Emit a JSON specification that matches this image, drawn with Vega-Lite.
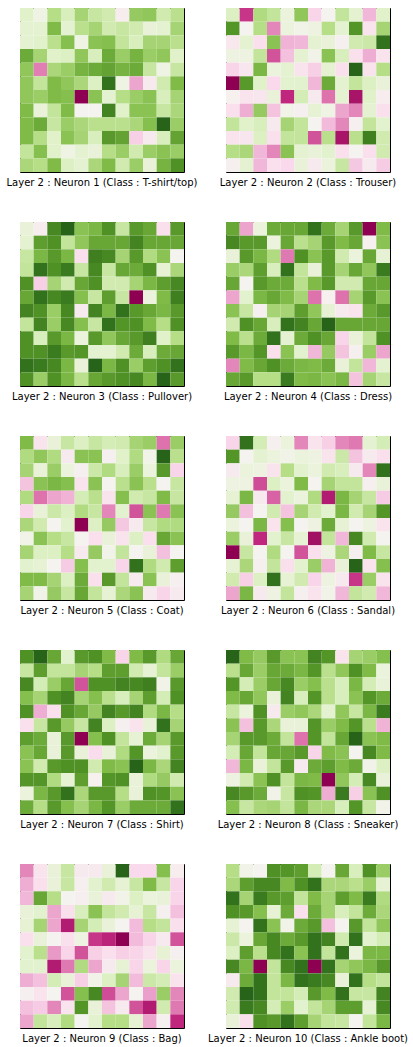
{
  "$schema": "https://vega.github.io/schema/vega-lite/v6.json",
  "description": "Layer 2 neuron weights, 12x12 grid per neuron, PiYG colours.",
  "padding": {"left": 6, "top": 7, "right": 0, "bottom": 0},
  "bounds": "flush",
  "data": {"values": [
{"n":1,"r":0,"c":0,"v":60},{"n":1,"r":0,"c":1,"v":53},{"n":1,"r":0,"c":2,"v":70},{"n":1,"r":0,"c":3,"v":62},{"n":1,"r":0,"c":4,"v":73},{"n":1,"r":0,"c":5,"v":66},{"n":1,"r":0,"c":6,"v":64},{"n":1,"r":0,"c":7,"v":47},{"n":1,"r":0,"c":8,"v":76},{"n":1,"r":0,"c":9,"v":77},{"n":1,"r":0,"c":10,"v":64},{"n":1,"r":0,"c":11,"v":69},
{"n":1,"r":1,"c":0,"v":58},{"n":1,"r":1,"c":1,"v":58},{"n":1,"r":1,"c":2,"v":80},{"n":1,"r":1,"c":3,"v":58},{"n":1,"r":1,"c":4,"v":69},{"n":1,"r":1,"c":5,"v":73},{"n":1,"r":1,"c":6,"v":64},{"n":1,"r":1,"c":7,"v":66},{"n":1,"r":1,"c":8,"v":64},{"n":1,"r":1,"c":9,"v":56},{"n":1,"r":1,"c":10,"v":58},{"n":1,"r":1,"c":11,"v":73},
{"n":1,"r":2,"c":0,"v":58},{"n":1,"r":2,"c":1,"v":60},{"n":1,"r":2,"c":2,"v":69},{"n":1,"r":2,"c":3,"v":79},{"n":1,"r":2,"c":4,"v":53},{"n":1,"r":2,"c":5,"v":78},{"n":1,"r":2,"c":6,"v":79},{"n":1,"r":2,"c":7,"v":67},{"n":1,"r":2,"c":8,"v":62},{"n":1,"r":2,"c":9,"v":73},{"n":1,"r":2,"c":10,"v":73},{"n":1,"r":2,"c":11,"v":69},
{"n":1,"r":3,"c":0,"v":84},{"n":1,"r":3,"c":1,"v":73},{"n":1,"r":3,"c":2,"v":60},{"n":1,"r":3,"c":3,"v":61},{"n":1,"r":3,"c":4,"v":77},{"n":1,"r":3,"c":5,"v":62},{"n":1,"r":3,"c":6,"v":84},{"n":1,"r":3,"c":7,"v":75},{"n":1,"r":3,"c":8,"v":82},{"n":1,"r":3,"c":9,"v":75},{"n":1,"r":3,"c":10,"v":77},{"n":1,"r":3,"c":11,"v":60},
{"n":1,"r":4,"c":0,"v":77},{"n":1,"r":4,"c":1,"v":22},{"n":1,"r":4,"c":2,"v":72},{"n":1,"r":4,"c":3,"v":75},{"n":1,"r":4,"c":4,"v":82},{"n":1,"r":4,"c":5,"v":84},{"n":1,"r":4,"c":6,"v":86},{"n":1,"r":4,"c":7,"v":82},{"n":1,"r":4,"c":8,"v":84},{"n":1,"r":4,"c":9,"v":66},{"n":1,"r":4,"c":10,"v":53},{"n":1,"r":4,"c":11,"v":66},
{"n":1,"r":5,"c":0,"v":77},{"n":1,"r":5,"c":1,"v":67},{"n":1,"r":5,"c":2,"v":80},{"n":1,"r":5,"c":3,"v":77},{"n":1,"r":5,"c":4,"v":72},{"n":1,"r":5,"c":5,"v":61},{"n":1,"r":5,"c":6,"v":97},{"n":1,"r":5,"c":7,"v":53},{"n":1,"r":5,"c":8,"v":28},{"n":1,"r":5,"c":9,"v":46},{"n":1,"r":5,"c":10,"v":64},{"n":1,"r":5,"c":11,"v":80},
{"n":1,"r":6,"c":0,"v":77},{"n":1,"r":6,"c":1,"v":75},{"n":1,"r":6,"c":2,"v":80},{"n":1,"r":6,"c":3,"v":79},{"n":1,"r":6,"c":4,"v":0},{"n":1,"r":6,"c":5,"v":78},{"n":1,"r":6,"c":6,"v":58},{"n":1,"r":6,"c":7,"v":70},{"n":1,"r":6,"c":8,"v":75},{"n":1,"r":6,"c":9,"v":78},{"n":1,"r":6,"c":10,"v":62},{"n":1,"r":6,"c":11,"v":73},
{"n":1,"r":7,"c":0,"v":80},{"n":1,"r":7,"c":1,"v":56},{"n":1,"r":7,"c":2,"v":67},{"n":1,"r":7,"c":3,"v":80},{"n":1,"r":7,"c":4,"v":50},{"n":1,"r":7,"c":5,"v":50},{"n":1,"r":7,"c":6,"v":93},{"n":1,"r":7,"c":7,"v":60},{"n":1,"r":7,"c":8,"v":78},{"n":1,"r":7,"c":9,"v":78},{"n":1,"r":7,"c":10,"v":66},{"n":1,"r":7,"c":11,"v":72},
{"n":1,"r":8,"c":0,"v":80},{"n":1,"r":8,"c":1,"v":84},{"n":1,"r":8,"c":2,"v":66},{"n":1,"r":8,"c":3,"v":75},{"n":1,"r":8,"c":4,"v":72},{"n":1,"r":8,"c":5,"v":69},{"n":1,"r":8,"c":6,"v":69},{"n":1,"r":8,"c":7,"v":69},{"n":1,"r":8,"c":8,"v":72},{"n":1,"r":8,"c":9,"v":79},{"n":1,"r":8,"c":10,"v":100},{"n":1,"r":8,"c":11,"v":75},
{"n":1,"r":9,"c":0,"v":80},{"n":1,"r":9,"c":1,"v":70},{"n":1,"r":9,"c":2,"v":60},{"n":1,"r":9,"c":3,"v":78},{"n":1,"r":9,"c":4,"v":73},{"n":1,"r":9,"c":5,"v":62},{"n":1,"r":9,"c":6,"v":88},{"n":1,"r":9,"c":7,"v":86},{"n":1,"r":9,"c":8,"v":37},{"n":1,"r":9,"c":9,"v":46},{"n":1,"r":9,"c":10,"v":62},{"n":1,"r":9,"c":11,"v":86},
{"n":1,"r":10,"c":0,"v":67},{"n":1,"r":10,"c":1,"v":79},{"n":1,"r":10,"c":2,"v":60},{"n":1,"r":10,"c":3,"v":53},{"n":1,"r":10,"c":4,"v":58},{"n":1,"r":10,"c":5,"v":56},{"n":1,"r":10,"c":6,"v":70},{"n":1,"r":10,"c":7,"v":75},{"n":1,"r":10,"c":8,"v":64},{"n":1,"r":10,"c":9,"v":75},{"n":1,"r":10,"c":10,"v":78},{"n":1,"r":10,"c":11,"v":75},
{"n":1,"r":11,"c":0,"v":72},{"n":1,"r":11,"c":1,"v":70},{"n":1,"r":11,"c":2,"v":80},{"n":1,"r":11,"c":3,"v":61},{"n":1,"r":11,"c":4,"v":58},{"n":1,"r":11,"c":5,"v":72},{"n":1,"r":11,"c":6,"v":80},{"n":1,"r":11,"c":7,"v":64},{"n":1,"r":11,"c":8,"v":75},{"n":1,"r":11,"c":9,"v":56},{"n":1,"r":11,"c":10,"v":82},{"n":1,"r":11,"c":11,"v":90},
{"n":2,"r":0,"c":0,"v":61},{"n":2,"r":0,"c":1,"v":12},{"n":2,"r":0,"c":2,"v":71},{"n":2,"r":0,"c":3,"v":67},{"n":2,"r":0,"c":4,"v":55},{"n":2,"r":0,"c":5,"v":77},{"n":2,"r":0,"c":6,"v":38},{"n":2,"r":0,"c":7,"v":50},{"n":2,"r":0,"c":8,"v":67},{"n":2,"r":0,"c":9,"v":58},{"n":2,"r":0,"c":10,"v":31},{"n":2,"r":0,"c":11,"v":60},
{"n":2,"r":1,"c":0,"v":89},{"n":2,"r":1,"c":1,"v":50},{"n":2,"r":1,"c":2,"v":70},{"n":2,"r":1,"c":3,"v":23},{"n":2,"r":1,"c":4,"v":55},{"n":2,"r":1,"c":5,"v":52},{"n":2,"r":1,"c":6,"v":54},{"n":2,"r":1,"c":7,"v":70},{"n":2,"r":1,"c":8,"v":58},{"n":2,"r":1,"c":9,"v":89},{"n":2,"r":1,"c":10,"v":43},{"n":2,"r":1,"c":11,"v":73},
{"n":2,"r":2,"c":0,"v":45},{"n":2,"r":2,"c":1,"v":58},{"n":2,"r":2,"c":2,"v":41},{"n":2,"r":2,"c":3,"v":78},{"n":2,"r":2,"c":4,"v":30},{"n":2,"r":2,"c":5,"v":31},{"n":2,"r":2,"c":6,"v":58},{"n":2,"r":2,"c":7,"v":56},{"n":2,"r":2,"c":8,"v":48},{"n":2,"r":2,"c":9,"v":64},{"n":2,"r":2,"c":10,"v":65},{"n":2,"r":2,"c":11,"v":97},
{"n":2,"r":3,"c":0,"v":54},{"n":2,"r":3,"c":1,"v":54},{"n":2,"r":3,"c":2,"v":67},{"n":2,"r":3,"c":3,"v":16},{"n":2,"r":3,"c":4,"v":33},{"n":2,"r":3,"c":5,"v":58},{"n":2,"r":3,"c":6,"v":52},{"n":2,"r":3,"c":7,"v":78},{"n":2,"r":3,"c":8,"v":62},{"n":2,"r":3,"c":9,"v":41},{"n":2,"r":3,"c":10,"v":29},{"n":2,"r":3,"c":11,"v":43},
{"n":2,"r":4,"c":0,"v":38},{"n":2,"r":4,"c":1,"v":44},{"n":2,"r":4,"c":2,"v":81},{"n":2,"r":4,"c":3,"v":55},{"n":2,"r":4,"c":4,"v":58},{"n":2,"r":4,"c":5,"v":43},{"n":2,"r":4,"c":6,"v":37},{"n":2,"r":4,"c":7,"v":58},{"n":2,"r":4,"c":8,"v":41},{"n":2,"r":4,"c":9,"v":100},{"n":2,"r":4,"c":10,"v":43},{"n":2,"r":4,"c":11,"v":70},
{"n":2,"r":5,"c":0,"v":0},{"n":2,"r":5,"c":1,"v":88},{"n":2,"r":5,"c":2,"v":60},{"n":2,"r":5,"c":3,"v":39},{"n":2,"r":5,"c":4,"v":59},{"n":2,"r":5,"c":5,"v":59},{"n":2,"r":5,"c":6,"v":31},{"n":2,"r":5,"c":7,"v":84},{"n":2,"r":5,"c":8,"v":58},{"n":2,"r":5,"c":9,"v":67},{"n":2,"r":5,"c":10,"v":61},{"n":2,"r":5,"c":11,"v":56},
{"n":2,"r":6,"c":0,"v":49},{"n":2,"r":6,"c":1,"v":43},{"n":2,"r":6,"c":2,"v":44},{"n":2,"r":6,"c":3,"v":56},{"n":2,"r":6,"c":4,"v":10},{"n":2,"r":6,"c":5,"v":63},{"n":2,"r":6,"c":6,"v":46},{"n":2,"r":6,"c":7,"v":20},{"n":2,"r":6,"c":8,"v":58},{"n":2,"r":6,"c":9,"v":5},{"n":2,"r":6,"c":10,"v":60},{"n":2,"r":6,"c":11,"v":47},
{"n":2,"r":7,"c":0,"v":41},{"n":2,"r":7,"c":1,"v":29},{"n":2,"r":7,"c":2,"v":76},{"n":2,"r":7,"c":3,"v":34},{"n":2,"r":7,"c":4,"v":52},{"n":2,"r":7,"c":5,"v":48},{"n":2,"r":7,"c":6,"v":57},{"n":2,"r":7,"c":7,"v":53},{"n":2,"r":7,"c":8,"v":28},{"n":2,"r":7,"c":9,"v":23},{"n":2,"r":7,"c":10,"v":58},{"n":2,"r":7,"c":11,"v":41},
{"n":2,"r":8,"c":0,"v":67},{"n":2,"r":8,"c":1,"v":60},{"n":2,"r":8,"c":2,"v":62},{"n":2,"r":8,"c":3,"v":46},{"n":2,"r":8,"c":4,"v":73},{"n":2,"r":8,"c":5,"v":67},{"n":2,"r":8,"c":6,"v":50},{"n":2,"r":8,"c":7,"v":32},{"n":2,"r":8,"c":8,"v":23},{"n":2,"r":8,"c":9,"v":48},{"n":2,"r":8,"c":10,"v":67},{"n":2,"r":8,"c":11,"v":59},
{"n":2,"r":9,"c":0,"v":43},{"n":2,"r":9,"c":1,"v":44},{"n":2,"r":9,"c":2,"v":61},{"n":2,"r":9,"c":3,"v":41},{"n":2,"r":9,"c":4,"v":67},{"n":2,"r":9,"c":5,"v":67},{"n":2,"r":9,"c":6,"v":16},{"n":2,"r":9,"c":7,"v":69},{"n":2,"r":9,"c":8,"v":5},{"n":2,"r":9,"c":9,"v":69},{"n":2,"r":9,"c":10,"v":94},{"n":2,"r":9,"c":11,"v":64},
{"n":2,"r":10,"c":0,"v":70},{"n":2,"r":10,"c":1,"v":72},{"n":2,"r":10,"c":2,"v":31},{"n":2,"r":10,"c":3,"v":23},{"n":2,"r":10,"c":4,"v":78},{"n":2,"r":10,"c":5,"v":58},{"n":2,"r":10,"c":6,"v":56},{"n":2,"r":10,"c":7,"v":59},{"n":2,"r":10,"c":8,"v":41},{"n":2,"r":10,"c":9,"v":50},{"n":2,"r":10,"c":10,"v":41},{"n":2,"r":10,"c":11,"v":64},
{"n":2,"r":11,"c":0,"v":48},{"n":2,"r":11,"c":1,"v":58},{"n":2,"r":11,"c":2,"v":31},{"n":2,"r":11,"c":3,"v":41},{"n":2,"r":11,"c":4,"v":39},{"n":2,"r":11,"c":5,"v":56},{"n":2,"r":11,"c":6,"v":46},{"n":2,"r":11,"c":7,"v":55},{"n":2,"r":11,"c":8,"v":66},{"n":2,"r":11,"c":9,"v":35},{"n":2,"r":11,"c":10,"v":46},{"n":2,"r":11,"c":11,"v":36},
{"n":3,"r":0,"c":0,"v":56},{"n":3,"r":0,"c":1,"v":47},{"n":3,"r":0,"c":2,"v":92},{"n":3,"r":0,"c":3,"v":100},{"n":3,"r":0,"c":4,"v":78},{"n":3,"r":0,"c":5,"v":81},{"n":3,"r":0,"c":6,"v":90},{"n":3,"r":0,"c":7,"v":66},{"n":3,"r":0,"c":8,"v":88},{"n":3,"r":0,"c":9,"v":85},{"n":3,"r":0,"c":10,"v":41},{"n":3,"r":0,"c":11,"v":88},
{"n":3,"r":1,"c":0,"v":58},{"n":3,"r":1,"c":1,"v":87},{"n":3,"r":1,"c":2,"v":90},{"n":3,"r":1,"c":3,"v":67},{"n":3,"r":1,"c":4,"v":77},{"n":3,"r":1,"c":5,"v":85},{"n":3,"r":1,"c":6,"v":85},{"n":3,"r":1,"c":7,"v":85},{"n":3,"r":1,"c":8,"v":93},{"n":3,"r":1,"c":9,"v":85},{"n":3,"r":1,"c":10,"v":85},{"n":3,"r":1,"c":11,"v":85},
{"n":3,"r":2,"c":0,"v":66},{"n":3,"r":2,"c":1,"v":81},{"n":3,"r":2,"c":2,"v":88},{"n":3,"r":2,"c":3,"v":81},{"n":3,"r":2,"c":4,"v":41},{"n":3,"r":2,"c":5,"v":94},{"n":3,"r":2,"c":6,"v":92},{"n":3,"r":2,"c":7,"v":73},{"n":3,"r":2,"c":8,"v":88},{"n":3,"r":2,"c":9,"v":71},{"n":3,"r":2,"c":10,"v":78},{"n":3,"r":2,"c":11,"v":50},
{"n":3,"r":3,"c":0,"v":67},{"n":3,"r":3,"c":1,"v":97},{"n":3,"r":3,"c":2,"v":90},{"n":3,"r":3,"c":3,"v":95},{"n":3,"r":3,"c":4,"v":66},{"n":3,"r":3,"c":5,"v":92},{"n":3,"r":3,"c":6,"v":66},{"n":3,"r":3,"c":7,"v":85},{"n":3,"r":3,"c":8,"v":84},{"n":3,"r":3,"c":9,"v":90},{"n":3,"r":3,"c":10,"v":57},{"n":3,"r":3,"c":11,"v":72},
{"n":3,"r":4,"c":0,"v":90},{"n":3,"r":4,"c":1,"v":37},{"n":3,"r":4,"c":2,"v":73},{"n":3,"r":4,"c":3,"v":64},{"n":3,"r":4,"c":4,"v":85},{"n":3,"r":4,"c":5,"v":90},{"n":3,"r":4,"c":6,"v":64},{"n":3,"r":4,"c":7,"v":64},{"n":3,"r":4,"c":8,"v":73},{"n":3,"r":4,"c":9,"v":81},{"n":3,"r":4,"c":10,"v":87},{"n":3,"r":4,"c":11,"v":92},
{"n":3,"r":5,"c":0,"v":85},{"n":3,"r":5,"c":1,"v":97},{"n":3,"r":5,"c":2,"v":92},{"n":3,"r":5,"c":3,"v":95},{"n":3,"r":5,"c":4,"v":79},{"n":3,"r":5,"c":5,"v":66},{"n":3,"r":5,"c":6,"v":87},{"n":3,"r":5,"c":7,"v":66},{"n":3,"r":5,"c":8,"v":0},{"n":3,"r":5,"c":9,"v":55},{"n":3,"r":5,"c":10,"v":80},{"n":3,"r":5,"c":11,"v":94},
{"n":3,"r":6,"c":0,"v":93},{"n":3,"r":6,"c":1,"v":90},{"n":3,"r":6,"c":2,"v":75},{"n":3,"r":6,"c":3,"v":92},{"n":3,"r":6,"c":4,"v":46},{"n":3,"r":6,"c":5,"v":93},{"n":3,"r":6,"c":6,"v":81},{"n":3,"r":6,"c":7,"v":97},{"n":3,"r":6,"c":8,"v":88},{"n":3,"r":6,"c":9,"v":85},{"n":3,"r":6,"c":10,"v":81},{"n":3,"r":6,"c":11,"v":88},
{"n":3,"r":7,"c":0,"v":67},{"n":3,"r":7,"c":1,"v":93},{"n":3,"r":7,"c":2,"v":75},{"n":3,"r":7,"c":3,"v":92},{"n":3,"r":7,"c":4,"v":79},{"n":3,"r":7,"c":5,"v":66},{"n":3,"r":7,"c":6,"v":97},{"n":3,"r":7,"c":7,"v":89},{"n":3,"r":7,"c":8,"v":90},{"n":3,"r":7,"c":9,"v":80},{"n":3,"r":7,"c":10,"v":70},{"n":3,"r":7,"c":11,"v":90},
{"n":3,"r":8,"c":0,"v":90},{"n":3,"r":8,"c":1,"v":62},{"n":3,"r":8,"c":2,"v":88},{"n":3,"r":8,"c":3,"v":81},{"n":3,"r":8,"c":4,"v":55},{"n":3,"r":8,"c":5,"v":88},{"n":3,"r":8,"c":6,"v":77},{"n":3,"r":8,"c":7,"v":85},{"n":3,"r":8,"c":8,"v":88},{"n":3,"r":8,"c":9,"v":94},{"n":3,"r":8,"c":10,"v":60},{"n":3,"r":8,"c":11,"v":70},
{"n":3,"r":9,"c":0,"v":90},{"n":3,"r":9,"c":1,"v":90},{"n":3,"r":9,"c":2,"v":95},{"n":3,"r":9,"c":3,"v":88},{"n":3,"r":9,"c":4,"v":89},{"n":3,"r":9,"c":5,"v":58},{"n":3,"r":9,"c":6,"v":58},{"n":3,"r":9,"c":7,"v":64},{"n":3,"r":9,"c":8,"v":84},{"n":3,"r":9,"c":9,"v":62},{"n":3,"r":9,"c":10,"v":84},{"n":3,"r":9,"c":11,"v":85},
{"n":3,"r":10,"c":0,"v":97},{"n":3,"r":10,"c":1,"v":95},{"n":3,"r":10,"c":2,"v":92},{"n":3,"r":10,"c":3,"v":81},{"n":3,"r":10,"c":4,"v":56},{"n":3,"r":10,"c":5,"v":100},{"n":3,"r":10,"c":6,"v":81},{"n":3,"r":10,"c":7,"v":90},{"n":3,"r":10,"c":8,"v":75},{"n":3,"r":10,"c":9,"v":87},{"n":3,"r":10,"c":10,"v":90},{"n":3,"r":10,"c":11,"v":97},
{"n":3,"r":11,"c":0,"v":90},{"n":3,"r":11,"c":1,"v":75},{"n":3,"r":11,"c":2,"v":90},{"n":3,"r":11,"c":3,"v":81},{"n":3,"r":11,"c":4,"v":69},{"n":3,"r":11,"c":5,"v":85},{"n":3,"r":11,"c":6,"v":88},{"n":3,"r":11,"c":7,"v":90},{"n":3,"r":11,"c":8,"v":92},{"n":3,"r":11,"c":9,"v":81},{"n":3,"r":11,"c":10,"v":100},{"n":3,"r":11,"c":11,"v":88},
{"n":4,"r":0,"c":0,"v":85},{"n":4,"r":0,"c":1,"v":28},{"n":4,"r":0,"c":2,"v":55},{"n":4,"r":0,"c":3,"v":84},{"n":4,"r":0,"c":4,"v":85},{"n":4,"r":0,"c":5,"v":85},{"n":4,"r":0,"c":6,"v":97},{"n":4,"r":0,"c":7,"v":84},{"n":4,"r":0,"c":8,"v":73},{"n":4,"r":0,"c":9,"v":88},{"n":4,"r":0,"c":10,"v":0},{"n":4,"r":0,"c":11,"v":80},
{"n":4,"r":1,"c":0,"v":92},{"n":4,"r":1,"c":1,"v":88},{"n":4,"r":1,"c":2,"v":88},{"n":4,"r":1,"c":3,"v":55},{"n":4,"r":1,"c":4,"v":85},{"n":4,"r":1,"c":5,"v":69},{"n":4,"r":1,"c":6,"v":73},{"n":4,"r":1,"c":7,"v":88},{"n":4,"r":1,"c":8,"v":80},{"n":4,"r":1,"c":9,"v":85},{"n":4,"r":1,"c":10,"v":49},{"n":4,"r":1,"c":11,"v":78},
{"n":4,"r":2,"c":0,"v":56},{"n":4,"r":2,"c":1,"v":88},{"n":4,"r":2,"c":2,"v":81},{"n":4,"r":2,"c":3,"v":71},{"n":4,"r":2,"c":4,"v":21},{"n":4,"r":2,"c":5,"v":90},{"n":4,"r":2,"c":6,"v":78},{"n":4,"r":2,"c":7,"v":88},{"n":4,"r":2,"c":8,"v":64},{"n":4,"r":2,"c":9,"v":55},{"n":4,"r":2,"c":10,"v":85},{"n":4,"r":2,"c":11,"v":57},
{"n":4,"r":3,"c":0,"v":75},{"n":4,"r":3,"c":1,"v":72},{"n":4,"r":3,"c":2,"v":87},{"n":4,"r":3,"c":3,"v":62},{"n":4,"r":3,"c":4,"v":97},{"n":4,"r":3,"c":5,"v":67},{"n":4,"r":3,"c":6,"v":56},{"n":4,"r":3,"c":7,"v":88},{"n":4,"r":3,"c":8,"v":73},{"n":4,"r":3,"c":9,"v":85},{"n":4,"r":3,"c":10,"v":77},{"n":4,"r":3,"c":11,"v":95},
{"n":4,"r":4,"c":0,"v":85},{"n":4,"r":4,"c":1,"v":50},{"n":4,"r":4,"c":2,"v":88},{"n":4,"r":4,"c":3,"v":84},{"n":4,"r":4,"c":4,"v":84},{"n":4,"r":4,"c":5,"v":69},{"n":4,"r":4,"c":6,"v":80},{"n":4,"r":4,"c":7,"v":88},{"n":4,"r":4,"c":8,"v":64},{"n":4,"r":4,"c":9,"v":64},{"n":4,"r":4,"c":10,"v":85},{"n":4,"r":4,"c":11,"v":85},
{"n":4,"r":5,"c":0,"v":28},{"n":4,"r":5,"c":1,"v":59},{"n":4,"r":5,"c":2,"v":81},{"n":4,"r":5,"c":3,"v":85},{"n":4,"r":5,"c":4,"v":80},{"n":4,"r":5,"c":5,"v":73},{"n":4,"r":5,"c":6,"v":20},{"n":4,"r":5,"c":7,"v":49},{"n":4,"r":5,"c":8,"v":20},{"n":4,"r":5,"c":9,"v":73},{"n":4,"r":5,"c":10,"v":88},{"n":4,"r":5,"c":11,"v":78},
{"n":4,"r":6,"c":0,"v":78},{"n":4,"r":6,"c":1,"v":66},{"n":4,"r":6,"c":2,"v":48},{"n":4,"r":6,"c":3,"v":73},{"n":4,"r":6,"c":4,"v":73},{"n":4,"r":6,"c":5,"v":87},{"n":4,"r":6,"c":6,"v":77},{"n":4,"r":6,"c":7,"v":57},{"n":4,"r":6,"c":8,"v":46},{"n":4,"r":6,"c":9,"v":43},{"n":4,"r":6,"c":10,"v":84},{"n":4,"r":6,"c":11,"v":88},
{"n":4,"r":7,"c":0,"v":64},{"n":4,"r":7,"c":1,"v":90},{"n":4,"r":7,"c":2,"v":85},{"n":4,"r":7,"c":3,"v":62},{"n":4,"r":7,"c":4,"v":97},{"n":4,"r":7,"c":5,"v":93},{"n":4,"r":7,"c":6,"v":85},{"n":4,"r":7,"c":7,"v":100},{"n":4,"r":7,"c":8,"v":85},{"n":4,"r":7,"c":9,"v":85},{"n":4,"r":7,"c":10,"v":85},{"n":4,"r":7,"c":11,"v":85},
{"n":4,"r":8,"c":0,"v":80},{"n":4,"r":8,"c":1,"v":69},{"n":4,"r":8,"c":2,"v":84},{"n":4,"r":8,"c":3,"v":97},{"n":4,"r":8,"c":4,"v":58},{"n":4,"r":8,"c":5,"v":84},{"n":4,"r":8,"c":6,"v":90},{"n":4,"r":8,"c":7,"v":85},{"n":4,"r":8,"c":8,"v":38},{"n":4,"r":8,"c":9,"v":56},{"n":4,"r":8,"c":10,"v":67},{"n":4,"r":8,"c":11,"v":90},
{"n":4,"r":9,"c":0,"v":88},{"n":4,"r":9,"c":1,"v":81},{"n":4,"r":9,"c":2,"v":89},{"n":4,"r":9,"c":3,"v":41},{"n":4,"r":9,"c":4,"v":78},{"n":4,"r":9,"c":5,"v":59},{"n":4,"r":9,"c":6,"v":31},{"n":4,"r":9,"c":7,"v":76},{"n":4,"r":9,"c":8,"v":34},{"n":4,"r":9,"c":9,"v":48},{"n":4,"r":9,"c":10,"v":75},{"n":4,"r":9,"c":11,"v":28},
{"n":4,"r":10,"c":0,"v":23},{"n":4,"r":10,"c":1,"v":80},{"n":4,"r":10,"c":2,"v":85},{"n":4,"r":10,"c":3,"v":90},{"n":4,"r":10,"c":4,"v":84},{"n":4,"r":10,"c":5,"v":81},{"n":4,"r":10,"c":6,"v":80},{"n":4,"r":10,"c":7,"v":84},{"n":4,"r":10,"c":8,"v":56},{"n":4,"r":10,"c":9,"v":67},{"n":4,"r":10,"c":10,"v":31},{"n":4,"r":10,"c":11,"v":58},
{"n":4,"r":11,"c":0,"v":85},{"n":4,"r":11,"c":1,"v":88},{"n":4,"r":11,"c":2,"v":70},{"n":4,"r":11,"c":3,"v":70},{"n":4,"r":11,"c":4,"v":95},{"n":4,"r":11,"c":5,"v":80},{"n":4,"r":11,"c":6,"v":81},{"n":4,"r":11,"c":7,"v":78},{"n":4,"r":11,"c":8,"v":81},{"n":4,"r":11,"c":9,"v":34},{"n":4,"r":11,"c":10,"v":73},{"n":4,"r":11,"c":11,"v":66},
{"n":5,"r":0,"c":0,"v":80},{"n":5,"r":0,"c":1,"v":43},{"n":5,"r":0,"c":2,"v":56},{"n":5,"r":0,"c":3,"v":66},{"n":5,"r":0,"c":4,"v":61},{"n":5,"r":0,"c":5,"v":66},{"n":5,"r":0,"c":6,"v":63},{"n":5,"r":0,"c":7,"v":64},{"n":5,"r":0,"c":8,"v":73},{"n":5,"r":0,"c":9,"v":75},{"n":5,"r":0,"c":10,"v":20},{"n":5,"r":0,"c":11,"v":75},
{"n":5,"r":1,"c":0,"v":71},{"n":5,"r":1,"c":1,"v":77},{"n":5,"r":1,"c":2,"v":71},{"n":5,"r":1,"c":3,"v":46},{"n":5,"r":1,"c":4,"v":78},{"n":5,"r":1,"c":5,"v":78},{"n":5,"r":1,"c":6,"v":48},{"n":5,"r":1,"c":7,"v":60},{"n":5,"r":1,"c":8,"v":71},{"n":5,"r":1,"c":9,"v":52},{"n":5,"r":1,"c":10,"v":100},{"n":5,"r":1,"c":11,"v":69},
{"n":5,"r":2,"c":0,"v":73},{"n":5,"r":2,"c":1,"v":56},{"n":5,"r":2,"c":2,"v":75},{"n":5,"r":2,"c":3,"v":55},{"n":5,"r":2,"c":4,"v":48},{"n":5,"r":2,"c":5,"v":65},{"n":5,"r":2,"c":6,"v":71},{"n":5,"r":2,"c":7,"v":62},{"n":5,"r":2,"c":8,"v":75},{"n":5,"r":2,"c":9,"v":55},{"n":5,"r":2,"c":10,"v":88},{"n":5,"r":2,"c":11,"v":38},
{"n":5,"r":3,"c":0,"v":34},{"n":5,"r":3,"c":1,"v":78},{"n":5,"r":3,"c":2,"v":81},{"n":5,"r":3,"c":3,"v":79},{"n":5,"r":3,"c":4,"v":43},{"n":5,"r":3,"c":5,"v":78},{"n":5,"r":3,"c":6,"v":50},{"n":5,"r":3,"c":7,"v":69},{"n":5,"r":3,"c":8,"v":78},{"n":5,"r":3,"c":9,"v":69},{"n":5,"r":3,"c":10,"v":50},{"n":5,"r":3,"c":11,"v":66},
{"n":5,"r":4,"c":0,"v":71},{"n":5,"r":4,"c":1,"v":20},{"n":5,"r":4,"c":2,"v":28},{"n":5,"r":4,"c":3,"v":30},{"n":5,"r":4,"c":4,"v":63},{"n":5,"r":4,"c":5,"v":69},{"n":5,"r":4,"c":6,"v":43},{"n":5,"r":4,"c":7,"v":79},{"n":5,"r":4,"c":8,"v":64},{"n":5,"r":4,"c":9,"v":66},{"n":5,"r":4,"c":10,"v":80},{"n":5,"r":4,"c":11,"v":66},
{"n":5,"r":5,"c":0,"v":38},{"n":5,"r":5,"c":1,"v":56},{"n":5,"r":5,"c":2,"v":65},{"n":5,"r":5,"c":3,"v":61},{"n":5,"r":5,"c":4,"v":71},{"n":5,"r":5,"c":5,"v":66},{"n":5,"r":5,"c":6,"v":23},{"n":5,"r":5,"c":7,"v":59},{"n":5,"r":5,"c":8,"v":16},{"n":5,"r":5,"c":9,"v":78},{"n":5,"r":5,"c":10,"v":21},{"n":5,"r":5,"c":11,"v":78},
{"n":5,"r":6,"c":0,"v":72},{"n":5,"r":6,"c":1,"v":64},{"n":5,"r":6,"c":2,"v":50},{"n":5,"r":6,"c":3,"v":59},{"n":5,"r":6,"c":4,"v":0},{"n":5,"r":6,"c":5,"v":61},{"n":5,"r":6,"c":6,"v":76},{"n":5,"r":6,"c":7,"v":35},{"n":5,"r":6,"c":8,"v":46},{"n":5,"r":6,"c":9,"v":66},{"n":5,"r":6,"c":10,"v":71},{"n":5,"r":6,"c":11,"v":71},
{"n":5,"r":7,"c":0,"v":52},{"n":5,"r":7,"c":1,"v":78},{"n":5,"r":7,"c":2,"v":70},{"n":5,"r":7,"c":3,"v":66},{"n":5,"r":7,"c":4,"v":50},{"n":5,"r":7,"c":5,"v":41},{"n":5,"r":7,"c":6,"v":56},{"n":5,"r":7,"c":7,"v":43},{"n":5,"r":7,"c":8,"v":61},{"n":5,"r":7,"c":9,"v":41},{"n":5,"r":7,"c":10,"v":85},{"n":5,"r":7,"c":11,"v":78},
{"n":5,"r":8,"c":0,"v":73},{"n":5,"r":8,"c":1,"v":61},{"n":5,"r":8,"c":2,"v":61},{"n":5,"r":8,"c":3,"v":70},{"n":5,"r":8,"c":4,"v":46},{"n":5,"r":8,"c":5,"v":76},{"n":5,"r":8,"c":6,"v":52},{"n":5,"r":8,"c":7,"v":67},{"n":5,"r":8,"c":8,"v":50},{"n":5,"r":8,"c":9,"v":56},{"n":5,"r":8,"c":10,"v":33},{"n":5,"r":8,"c":11,"v":50},
{"n":5,"r":9,"c":0,"v":59},{"n":5,"r":9,"c":1,"v":57},{"n":5,"r":9,"c":2,"v":50},{"n":5,"r":9,"c":3,"v":36},{"n":5,"r":9,"c":4,"v":79},{"n":5,"r":9,"c":5,"v":59},{"n":5,"r":9,"c":6,"v":59},{"n":5,"r":9,"c":7,"v":38},{"n":5,"r":9,"c":8,"v":97},{"n":5,"r":9,"c":9,"v":71},{"n":5,"r":9,"c":10,"v":64},{"n":5,"r":9,"c":11,"v":87},
{"n":5,"r":10,"c":0,"v":80},{"n":5,"r":10,"c":1,"v":80},{"n":5,"r":10,"c":2,"v":73},{"n":5,"r":10,"c":3,"v":61},{"n":5,"r":10,"c":4,"v":84},{"n":5,"r":10,"c":5,"v":41},{"n":5,"r":10,"c":6,"v":88},{"n":5,"r":10,"c":7,"v":67},{"n":5,"r":10,"c":8,"v":46},{"n":5,"r":10,"c":9,"v":78},{"n":5,"r":10,"c":10,"v":56},{"n":5,"r":10,"c":11,"v":48},
{"n":5,"r":11,"c":0,"v":73},{"n":5,"r":11,"c":1,"v":52},{"n":5,"r":11,"c":2,"v":76},{"n":5,"r":11,"c":3,"v":66},{"n":5,"r":11,"c":4,"v":85},{"n":5,"r":11,"c":5,"v":67},{"n":5,"r":11,"c":6,"v":57},{"n":5,"r":11,"c":7,"v":72},{"n":5,"r":11,"c":8,"v":78},{"n":5,"r":11,"c":9,"v":46},{"n":5,"r":11,"c":10,"v":38},{"n":5,"r":11,"c":11,"v":46},
{"n":6,"r":0,"c":0,"v":38},{"n":6,"r":0,"c":1,"v":97},{"n":6,"r":0,"c":2,"v":63},{"n":6,"r":0,"c":3,"v":48},{"n":6,"r":0,"c":4,"v":55},{"n":6,"r":0,"c":5,"v":23},{"n":6,"r":0,"c":6,"v":43},{"n":6,"r":0,"c":7,"v":37},{"n":6,"r":0,"c":8,"v":23},{"n":6,"r":0,"c":9,"v":21},{"n":6,"r":0,"c":10,"v":58},{"n":6,"r":0,"c":11,"v":63},
{"n":6,"r":1,"c":0,"v":89},{"n":6,"r":1,"c":1,"v":50},{"n":6,"r":1,"c":2,"v":58},{"n":6,"r":1,"c":3,"v":55},{"n":6,"r":1,"c":4,"v":52},{"n":6,"r":1,"c":5,"v":55},{"n":6,"r":1,"c":6,"v":54},{"n":6,"r":1,"c":7,"v":43},{"n":6,"r":1,"c":8,"v":65},{"n":6,"r":1,"c":9,"v":34},{"n":6,"r":1,"c":10,"v":46},{"n":6,"r":1,"c":11,"v":41},
{"n":6,"r":2,"c":0,"v":46},{"n":6,"r":2,"c":1,"v":55},{"n":6,"r":2,"c":2,"v":54},{"n":6,"r":2,"c":3,"v":43},{"n":6,"r":2,"c":4,"v":70},{"n":6,"r":2,"c":5,"v":59},{"n":6,"r":2,"c":6,"v":55},{"n":6,"r":2,"c":7,"v":64},{"n":6,"r":2,"c":8,"v":62},{"n":6,"r":2,"c":9,"v":46},{"n":6,"r":2,"c":10,"v":23},{"n":6,"r":2,"c":11,"v":97},
{"n":6,"r":3,"c":0,"v":54},{"n":6,"r":3,"c":1,"v":54},{"n":6,"r":3,"c":2,"v":15},{"n":6,"r":3,"c":3,"v":61},{"n":6,"r":3,"c":4,"v":55},{"n":6,"r":3,"c":5,"v":80},{"n":6,"r":3,"c":6,"v":50},{"n":6,"r":3,"c":7,"v":73},{"n":6,"r":3,"c":8,"v":67},{"n":6,"r":3,"c":9,"v":67},{"n":6,"r":3,"c":10,"v":48},{"n":6,"r":3,"c":11,"v":56},
{"n":6,"r":4,"c":0,"v":57},{"n":6,"r":4,"c":1,"v":81},{"n":6,"r":4,"c":2,"v":46},{"n":6,"r":4,"c":3,"v":18},{"n":6,"r":4,"c":4,"v":59},{"n":6,"r":4,"c":5,"v":55},{"n":6,"r":4,"c":6,"v":71},{"n":6,"r":4,"c":7,"v":7},{"n":6,"r":4,"c":8,"v":81},{"n":6,"r":4,"c":9,"v":73},{"n":6,"r":4,"c":10,"v":66},{"n":6,"r":4,"c":11,"v":36},
{"n":6,"r":5,"c":0,"v":76},{"n":6,"r":5,"c":1,"v":33},{"n":6,"r":5,"c":2,"v":50},{"n":6,"r":5,"c":3,"v":64},{"n":6,"r":5,"c":4,"v":34},{"n":6,"r":5,"c":5,"v":73},{"n":6,"r":5,"c":6,"v":64},{"n":6,"r":5,"c":7,"v":59},{"n":6,"r":5,"c":8,"v":81},{"n":6,"r":5,"c":9,"v":64},{"n":6,"r":5,"c":10,"v":73},{"n":6,"r":5,"c":11,"v":89},
{"n":6,"r":6,"c":0,"v":55},{"n":6,"r":6,"c":1,"v":50},{"n":6,"r":6,"c":2,"v":81},{"n":6,"r":6,"c":3,"v":43},{"n":6,"r":6,"c":4,"v":79},{"n":6,"r":6,"c":5,"v":50},{"n":6,"r":6,"c":6,"v":54},{"n":6,"r":6,"c":7,"v":84},{"n":6,"r":6,"c":8,"v":57},{"n":6,"r":6,"c":9,"v":50},{"n":6,"r":6,"c":10,"v":54},{"n":6,"r":6,"c":11,"v":43},
{"n":6,"r":7,"c":0,"v":75},{"n":6,"r":7,"c":1,"v":56},{"n":6,"r":7,"c":2,"v":10},{"n":6,"r":7,"c":3,"v":59},{"n":6,"r":7,"c":4,"v":66},{"n":6,"r":7,"c":5,"v":57},{"n":6,"r":7,"c":6,"v":4},{"n":6,"r":7,"c":7,"v":67},{"n":6,"r":7,"c":8,"v":31},{"n":6,"r":7,"c":9,"v":92},{"n":6,"r":7,"c":10,"v":64},{"n":6,"r":7,"c":11,"v":50},
{"n":6,"r":8,"c":0,"v":0},{"n":6,"r":8,"c":1,"v":66},{"n":6,"r":8,"c":2,"v":50},{"n":6,"r":8,"c":3,"v":71},{"n":6,"r":8,"c":4,"v":50},{"n":6,"r":8,"c":5,"v":16},{"n":6,"r":8,"c":6,"v":41},{"n":6,"r":8,"c":7,"v":54},{"n":6,"r":8,"c":8,"v":72},{"n":6,"r":8,"c":9,"v":48},{"n":6,"r":8,"c":10,"v":80},{"n":6,"r":8,"c":11,"v":66},
{"n":6,"r":9,"c":0,"v":57},{"n":6,"r":9,"c":1,"v":72},{"n":6,"r":9,"c":2,"v":48},{"n":6,"r":9,"c":3,"v":67},{"n":6,"r":9,"c":4,"v":41},{"n":6,"r":9,"c":5,"v":59},{"n":6,"r":9,"c":6,"v":75},{"n":6,"r":9,"c":7,"v":30},{"n":6,"r":9,"c":8,"v":56},{"n":6,"r":9,"c":9,"v":100},{"n":6,"r":9,"c":10,"v":43},{"n":6,"r":9,"c":11,"v":79},
{"n":6,"r":10,"c":0,"v":64},{"n":6,"r":10,"c":1,"v":37},{"n":6,"r":10,"c":2,"v":61},{"n":6,"r":10,"c":3,"v":97},{"n":6,"r":10,"c":4,"v":57},{"n":6,"r":10,"c":5,"v":64},{"n":6,"r":10,"c":6,"v":38},{"n":6,"r":10,"c":7,"v":54},{"n":6,"r":10,"c":8,"v":46},{"n":6,"r":10,"c":9,"v":12},{"n":6,"r":10,"c":10,"v":75},{"n":6,"r":10,"c":11,"v":43},
{"n":6,"r":11,"c":0,"v":28},{"n":6,"r":11,"c":1,"v":81},{"n":6,"r":11,"c":2,"v":46},{"n":6,"r":11,"c":3,"v":54},{"n":6,"r":11,"c":4,"v":67},{"n":6,"r":11,"c":5,"v":48},{"n":6,"r":11,"c":6,"v":43},{"n":6,"r":11,"c":7,"v":52},{"n":6,"r":11,"c":8,"v":31},{"n":6,"r":11,"c":9,"v":67},{"n":6,"r":11,"c":10,"v":64},{"n":6,"r":11,"c":11,"v":31},
{"n":7,"r":0,"c":0,"v":90},{"n":7,"r":0,"c":1,"v":100},{"n":7,"r":0,"c":2,"v":85},{"n":7,"r":0,"c":3,"v":59},{"n":7,"r":0,"c":4,"v":88},{"n":7,"r":0,"c":5,"v":90},{"n":7,"r":0,"c":6,"v":80},{"n":7,"r":0,"c":7,"v":38},{"n":7,"r":0,"c":8,"v":80},{"n":7,"r":0,"c":9,"v":88},{"n":7,"r":0,"c":10,"v":71},{"n":7,"r":0,"c":11,"v":85},
{"n":7,"r":1,"c":0,"v":66},{"n":7,"r":1,"c":1,"v":87},{"n":7,"r":1,"c":2,"v":67},{"n":7,"r":1,"c":3,"v":67},{"n":7,"r":1,"c":4,"v":73},{"n":7,"r":1,"c":5,"v":70},{"n":7,"r":1,"c":6,"v":87},{"n":7,"r":1,"c":7,"v":87},{"n":7,"r":1,"c":8,"v":64},{"n":7,"r":1,"c":9,"v":57},{"n":7,"r":1,"c":10,"v":67},{"n":7,"r":1,"c":11,"v":75},
{"n":7,"r":2,"c":0,"v":92},{"n":7,"r":2,"c":1,"v":63},{"n":7,"r":2,"c":2,"v":75},{"n":7,"r":2,"c":3,"v":85},{"n":7,"r":2,"c":4,"v":16},{"n":7,"r":2,"c":5,"v":90},{"n":7,"r":2,"c":6,"v":90},{"n":7,"r":2,"c":7,"v":93},{"n":7,"r":2,"c":8,"v":92},{"n":7,"r":2,"c":9,"v":94},{"n":7,"r":2,"c":10,"v":52},{"n":7,"r":2,"c":11,"v":88},
{"n":7,"r":3,"c":0,"v":79},{"n":7,"r":3,"c":1,"v":73},{"n":7,"r":3,"c":2,"v":90},{"n":7,"r":3,"c":3,"v":93},{"n":7,"r":3,"c":4,"v":73},{"n":7,"r":3,"c":5,"v":79},{"n":7,"r":3,"c":6,"v":69},{"n":7,"r":3,"c":7,"v":62},{"n":7,"r":3,"c":8,"v":73},{"n":7,"r":3,"c":9,"v":87},{"n":7,"r":3,"c":10,"v":63},{"n":7,"r":3,"c":11,"v":90},
{"n":7,"r":4,"c":0,"v":90},{"n":7,"r":4,"c":1,"v":29},{"n":7,"r":4,"c":2,"v":41},{"n":7,"r":4,"c":3,"v":90},{"n":7,"r":4,"c":4,"v":85},{"n":7,"r":4,"c":5,"v":76},{"n":7,"r":4,"c":6,"v":93},{"n":7,"r":4,"c":7,"v":88},{"n":7,"r":4,"c":8,"v":93},{"n":7,"r":4,"c":9,"v":71},{"n":7,"r":4,"c":10,"v":81},{"n":7,"r":4,"c":11,"v":70},
{"n":7,"r":5,"c":0,"v":41},{"n":7,"r":5,"c":1,"v":66},{"n":7,"r":5,"c":2,"v":88},{"n":7,"r":5,"c":3,"v":76},{"n":7,"r":5,"c":4,"v":66},{"n":7,"r":5,"c":5,"v":93},{"n":7,"r":5,"c":6,"v":61},{"n":7,"r":5,"c":7,"v":48},{"n":7,"r":5,"c":8,"v":43},{"n":7,"r":5,"c":9,"v":56},{"n":7,"r":5,"c":10,"v":97},{"n":7,"r":5,"c":11,"v":73},
{"n":7,"r":6,"c":0,"v":87},{"n":7,"r":6,"c":1,"v":84},{"n":7,"r":6,"c":2,"v":56},{"n":7,"r":6,"c":3,"v":88},{"n":7,"r":6,"c":4,"v":0},{"n":7,"r":6,"c":5,"v":79},{"n":7,"r":6,"c":6,"v":90},{"n":7,"r":6,"c":7,"v":67},{"n":7,"r":6,"c":8,"v":57},{"n":7,"r":6,"c":9,"v":84},{"n":7,"r":6,"c":10,"v":73},{"n":7,"r":6,"c":11,"v":88},
{"n":7,"r":7,"c":0,"v":78},{"n":7,"r":7,"c":1,"v":85},{"n":7,"r":7,"c":2,"v":56},{"n":7,"r":7,"c":3,"v":88},{"n":7,"r":7,"c":4,"v":56},{"n":7,"r":7,"c":5,"v":40},{"n":7,"r":7,"c":6,"v":56},{"n":7,"r":7,"c":7,"v":71},{"n":7,"r":7,"c":8,"v":89},{"n":7,"r":7,"c":9,"v":55},{"n":7,"r":7,"c":10,"v":59},{"n":7,"r":7,"c":11,"v":88},
{"n":7,"r":8,"c":0,"v":78},{"n":7,"r":8,"c":1,"v":64},{"n":7,"r":8,"c":2,"v":88},{"n":7,"r":8,"c":3,"v":90},{"n":7,"r":8,"c":4,"v":90},{"n":7,"r":8,"c":5,"v":64},{"n":7,"r":8,"c":6,"v":80},{"n":7,"r":8,"c":7,"v":78},{"n":7,"r":8,"c":8,"v":100},{"n":7,"r":8,"c":9,"v":81},{"n":7,"r":8,"c":10,"v":72},{"n":7,"r":8,"c":11,"v":93},
{"n":7,"r":9,"c":0,"v":89},{"n":7,"r":9,"c":1,"v":89},{"n":7,"r":9,"c":2,"v":71},{"n":7,"r":9,"c":3,"v":57},{"n":7,"r":9,"c":4,"v":87},{"n":7,"r":9,"c":5,"v":49},{"n":7,"r":9,"c":6,"v":89},{"n":7,"r":9,"c":7,"v":90},{"n":7,"r":9,"c":8,"v":56},{"n":7,"r":9,"c":9,"v":71},{"n":7,"r":9,"c":10,"v":76},{"n":7,"r":9,"c":11,"v":64},
{"n":7,"r":10,"c":0,"v":55},{"n":7,"r":10,"c":1,"v":81},{"n":7,"r":10,"c":2,"v":88},{"n":7,"r":10,"c":3,"v":97},{"n":7,"r":10,"c":4,"v":72},{"n":7,"r":10,"c":5,"v":88},{"n":7,"r":10,"c":6,"v":88},{"n":7,"r":10,"c":7,"v":70},{"n":7,"r":10,"c":8,"v":56},{"n":7,"r":10,"c":9,"v":90},{"n":7,"r":10,"c":10,"v":89},{"n":7,"r":10,"c":11,"v":78},
{"n":7,"r":11,"c":0,"v":84},{"n":7,"r":11,"c":1,"v":70},{"n":7,"r":11,"c":2,"v":88},{"n":7,"r":11,"c":3,"v":79},{"n":7,"r":11,"c":4,"v":73},{"n":7,"r":11,"c":5,"v":81},{"n":7,"r":11,"c":6,"v":89},{"n":7,"r":11,"c":7,"v":75},{"n":7,"r":11,"c":8,"v":84},{"n":7,"r":11,"c":9,"v":84},{"n":7,"r":11,"c":10,"v":84},{"n":7,"r":11,"c":11,"v":97},
{"n":8,"r":0,"c":0,"v":100},{"n":8,"r":0,"c":1,"v":80},{"n":8,"r":0,"c":2,"v":76},{"n":8,"r":0,"c":3,"v":88},{"n":8,"r":0,"c":4,"v":78},{"n":8,"r":0,"c":5,"v":78},{"n":8,"r":0,"c":6,"v":93},{"n":8,"r":0,"c":7,"v":89},{"n":8,"r":0,"c":8,"v":43},{"n":8,"r":0,"c":9,"v":73},{"n":8,"r":0,"c":10,"v":75},{"n":8,"r":0,"c":11,"v":79},
{"n":8,"r":1,"c":0,"v":69},{"n":8,"r":1,"c":1,"v":85},{"n":8,"r":1,"c":2,"v":75},{"n":8,"r":1,"c":3,"v":85},{"n":8,"r":1,"c":4,"v":84},{"n":8,"r":1,"c":5,"v":81},{"n":8,"r":1,"c":6,"v":89},{"n":8,"r":1,"c":7,"v":69},{"n":8,"r":1,"c":8,"v":77},{"n":8,"r":1,"c":9,"v":90},{"n":8,"r":1,"c":10,"v":80},{"n":8,"r":1,"c":11,"v":55},
{"n":8,"r":2,"c":0,"v":89},{"n":8,"r":2,"c":1,"v":63},{"n":8,"r":2,"c":2,"v":75},{"n":8,"r":2,"c":3,"v":85},{"n":8,"r":2,"c":4,"v":92},{"n":8,"r":2,"c":5,"v":75},{"n":8,"r":2,"c":6,"v":79},{"n":8,"r":2,"c":7,"v":69},{"n":8,"r":2,"c":8,"v":62},{"n":8,"r":2,"c":9,"v":81},{"n":8,"r":2,"c":10,"v":63},{"n":8,"r":2,"c":11,"v":56},
{"n":8,"r":3,"c":0,"v":80},{"n":8,"r":3,"c":1,"v":85},{"n":8,"r":3,"c":2,"v":77},{"n":8,"r":3,"c":3,"v":56},{"n":8,"r":3,"c":4,"v":93},{"n":8,"r":3,"c":5,"v":62},{"n":8,"r":3,"c":6,"v":89},{"n":8,"r":3,"c":7,"v":69},{"n":8,"r":3,"c":8,"v":62},{"n":8,"r":3,"c":9,"v":78},{"n":8,"r":3,"c":10,"v":89},{"n":8,"r":3,"c":11,"v":84},
{"n":8,"r":4,"c":0,"v":66},{"n":8,"r":4,"c":1,"v":55},{"n":8,"r":4,"c":2,"v":90},{"n":8,"r":4,"c":3,"v":46},{"n":8,"r":4,"c":4,"v":75},{"n":8,"r":4,"c":5,"v":77},{"n":8,"r":4,"c":6,"v":72},{"n":8,"r":4,"c":7,"v":58},{"n":8,"r":4,"c":8,"v":77},{"n":8,"r":4,"c":9,"v":66},{"n":8,"r":4,"c":10,"v":81},{"n":8,"r":4,"c":11,"v":95},
{"n":8,"r":5,"c":0,"v":78},{"n":8,"r":5,"c":1,"v":33},{"n":8,"r":5,"c":2,"v":88},{"n":8,"r":5,"c":3,"v":72},{"n":8,"r":5,"c":4,"v":56},{"n":8,"r":5,"c":5,"v":56},{"n":8,"r":5,"c":6,"v":89},{"n":8,"r":5,"c":7,"v":75},{"n":8,"r":5,"c":8,"v":80},{"n":8,"r":5,"c":9,"v":89},{"n":8,"r":5,"c":10,"v":69},{"n":8,"r":5,"c":11,"v":30},
{"n":8,"r":6,"c":0,"v":73},{"n":8,"r":6,"c":1,"v":88},{"n":8,"r":6,"c":2,"v":88},{"n":8,"r":6,"c":3,"v":84},{"n":8,"r":6,"c":4,"v":67},{"n":8,"r":6,"c":5,"v":20},{"n":8,"r":6,"c":6,"v":89},{"n":8,"r":6,"c":7,"v":67},{"n":8,"r":6,"c":8,"v":85},{"n":8,"r":6,"c":9,"v":100},{"n":8,"r":6,"c":10,"v":78},{"n":8,"r":6,"c":11,"v":80},
{"n":8,"r":7,"c":0,"v":63},{"n":8,"r":7,"c":1,"v":85},{"n":8,"r":7,"c":2,"v":67},{"n":8,"r":7,"c":3,"v":85},{"n":8,"r":7,"c":4,"v":85},{"n":8,"r":7,"c":5,"v":88},{"n":8,"r":7,"c":6,"v":38},{"n":8,"r":7,"c":7,"v":80},{"n":8,"r":7,"c":8,"v":78},{"n":8,"r":7,"c":9,"v":50},{"n":8,"r":7,"c":10,"v":92},{"n":8,"r":7,"c":11,"v":80},
{"n":8,"r":8,"c":0,"v":31},{"n":8,"r":8,"c":1,"v":81},{"n":8,"r":8,"c":2,"v":56},{"n":8,"r":8,"c":3,"v":67},{"n":8,"r":8,"c":4,"v":88},{"n":8,"r":8,"c":5,"v":46},{"n":8,"r":8,"c":6,"v":84},{"n":8,"r":8,"c":7,"v":87},{"n":8,"r":8,"c":8,"v":80},{"n":8,"r":8,"c":9,"v":84},{"n":8,"r":8,"c":10,"v":52},{"n":8,"r":8,"c":11,"v":61},
{"n":8,"r":9,"c":0,"v":54},{"n":8,"r":9,"c":1,"v":64},{"n":8,"r":9,"c":2,"v":78},{"n":8,"r":9,"c":3,"v":90},{"n":8,"r":9,"c":4,"v":67},{"n":8,"r":9,"c":5,"v":81},{"n":8,"r":9,"c":6,"v":80},{"n":8,"r":9,"c":7,"v":0},{"n":8,"r":9,"c":8,"v":77},{"n":8,"r":9,"c":9,"v":63},{"n":8,"r":9,"c":10,"v":92},{"n":8,"r":9,"c":11,"v":56},
{"n":8,"r":10,"c":0,"v":92},{"n":8,"r":10,"c":1,"v":88},{"n":8,"r":10,"c":2,"v":84},{"n":8,"r":10,"c":3,"v":52},{"n":8,"r":10,"c":4,"v":66},{"n":8,"r":10,"c":5,"v":90},{"n":8,"r":10,"c":6,"v":89},{"n":8,"r":10,"c":7,"v":29},{"n":8,"r":10,"c":8,"v":95},{"n":8,"r":10,"c":9,"v":37},{"n":8,"r":10,"c":10,"v":78},{"n":8,"r":10,"c":11,"v":90},
{"n":8,"r":11,"c":0,"v":79},{"n":8,"r":11,"c":1,"v":66},{"n":8,"r":11,"c":2,"v":72},{"n":8,"r":11,"c":3,"v":73},{"n":8,"r":11,"c":4,"v":67},{"n":8,"r":11,"c":5,"v":81},{"n":8,"r":11,"c":6,"v":72},{"n":8,"r":11,"c":7,"v":72},{"n":8,"r":11,"c":8,"v":62},{"n":8,"r":11,"c":9,"v":89},{"n":8,"r":11,"c":10,"v":66},{"n":8,"r":11,"c":11,"v":52},
{"n":9,"r":0,"c":0,"v":23},{"n":9,"r":0,"c":1,"v":43},{"n":9,"r":0,"c":2,"v":56},{"n":9,"r":0,"c":3,"v":66},{"n":9,"r":0,"c":4,"v":46},{"n":9,"r":0,"c":5,"v":46},{"n":9,"r":0,"c":6,"v":56},{"n":9,"r":0,"c":7,"v":100},{"n":9,"r":0,"c":8,"v":39},{"n":9,"r":0,"c":9,"v":39},{"n":9,"r":0,"c":10,"v":79},{"n":9,"r":0,"c":11,"v":47},
{"n":9,"r":1,"c":0,"v":29},{"n":9,"r":1,"c":1,"v":41},{"n":9,"r":1,"c":2,"v":56},{"n":9,"r":1,"c":3,"v":66},{"n":9,"r":1,"c":4,"v":48},{"n":9,"r":1,"c":5,"v":59},{"n":9,"r":1,"c":6,"v":64},{"n":9,"r":1,"c":7,"v":57},{"n":9,"r":1,"c":8,"v":66},{"n":9,"r":1,"c":9,"v":80},{"n":9,"r":1,"c":10,"v":66},{"n":9,"r":1,"c":11,"v":38},
{"n":9,"r":2,"c":0,"v":31},{"n":9,"r":2,"c":1,"v":85},{"n":9,"r":2,"c":2,"v":70},{"n":9,"r":2,"c":3,"v":50},{"n":9,"r":2,"c":4,"v":48},{"n":9,"r":2,"c":5,"v":56},{"n":9,"r":2,"c":6,"v":46},{"n":9,"r":2,"c":7,"v":52},{"n":9,"r":2,"c":8,"v":61},{"n":9,"r":2,"c":9,"v":55},{"n":9,"r":2,"c":10,"v":56},{"n":9,"r":2,"c":11,"v":38},
{"n":9,"r":3,"c":0,"v":56},{"n":9,"r":3,"c":1,"v":59},{"n":9,"r":3,"c":2,"v":28},{"n":9,"r":3,"c":3,"v":41},{"n":9,"r":3,"c":4,"v":62},{"n":9,"r":3,"c":5,"v":78},{"n":9,"r":3,"c":6,"v":67},{"n":9,"r":3,"c":7,"v":64},{"n":9,"r":3,"c":8,"v":57},{"n":9,"r":3,"c":9,"v":66},{"n":9,"r":3,"c":10,"v":48},{"n":9,"r":3,"c":11,"v":33},
{"n":9,"r":4,"c":0,"v":57},{"n":9,"r":4,"c":1,"v":73},{"n":9,"r":4,"c":2,"v":28},{"n":9,"r":4,"c":3,"v":7},{"n":9,"r":4,"c":4,"v":73},{"n":9,"r":4,"c":5,"v":63},{"n":9,"r":4,"c":6,"v":56},{"n":9,"r":4,"c":7,"v":50},{"n":9,"r":4,"c":8,"v":32},{"n":9,"r":4,"c":9,"v":70},{"n":9,"r":4,"c":10,"v":67},{"n":9,"r":4,"c":11,"v":41},
{"n":9,"r":5,"c":0,"v":41},{"n":9,"r":5,"c":1,"v":56},{"n":9,"r":5,"c":2,"v":50},{"n":9,"r":5,"c":3,"v":41},{"n":9,"r":5,"c":4,"v":54},{"n":9,"r":5,"c":5,"v":12},{"n":9,"r":5,"c":6,"v":9},{"n":9,"r":5,"c":7,"v":0},{"n":9,"r":5,"c":8,"v":32},{"n":9,"r":5,"c":9,"v":38},{"n":9,"r":5,"c":10,"v":46},{"n":9,"r":5,"c":11,"v":16},
{"n":9,"r":6,"c":0,"v":59},{"n":9,"r":6,"c":1,"v":69},{"n":9,"r":6,"c":2,"v":26},{"n":9,"r":6,"c":3,"v":38},{"n":9,"r":6,"c":4,"v":16},{"n":9,"r":6,"c":5,"v":37},{"n":9,"r":6,"c":6,"v":41},{"n":9,"r":6,"c":7,"v":37},{"n":9,"r":6,"c":8,"v":38},{"n":9,"r":6,"c":9,"v":43},{"n":9,"r":6,"c":10,"v":57},{"n":9,"r":6,"c":11,"v":48},
{"n":9,"r":7,"c":0,"v":59},{"n":9,"r":7,"c":1,"v":59},{"n":9,"r":7,"c":2,"v":7},{"n":9,"r":7,"c":3,"v":21},{"n":9,"r":7,"c":4,"v":71},{"n":9,"r":7,"c":5,"v":28},{"n":9,"r":7,"c":6,"v":46},{"n":9,"r":7,"c":7,"v":57},{"n":9,"r":7,"c":8,"v":38},{"n":9,"r":7,"c":9,"v":55},{"n":9,"r":7,"c":10,"v":38},{"n":9,"r":7,"c":11,"v":55},
{"n":9,"r":8,"c":0,"v":29},{"n":9,"r":8,"c":1,"v":33},{"n":9,"r":8,"c":2,"v":63},{"n":9,"r":8,"c":3,"v":56},{"n":9,"r":8,"c":4,"v":37},{"n":9,"r":8,"c":5,"v":52},{"n":9,"r":8,"c":6,"v":61},{"n":9,"r":8,"c":7,"v":73},{"n":9,"r":8,"c":8,"v":32},{"n":9,"r":8,"c":9,"v":65},{"n":9,"r":8,"c":10,"v":63},{"n":9,"r":8,"c":11,"v":43},
{"n":9,"r":9,"c":0,"v":48},{"n":9,"r":9,"c":1,"v":43},{"n":9,"r":9,"c":2,"v":50},{"n":9,"r":9,"c":3,"v":16},{"n":9,"r":9,"c":4,"v":79},{"n":9,"r":9,"c":5,"v":92},{"n":9,"r":9,"c":6,"v":15},{"n":9,"r":9,"c":7,"v":28},{"n":9,"r":9,"c":8,"v":50},{"n":9,"r":9,"c":9,"v":27},{"n":9,"r":9,"c":10,"v":75},{"n":9,"r":9,"c":11,"v":23},
{"n":9,"r":10,"c":0,"v":33},{"n":9,"r":10,"c":1,"v":36},{"n":9,"r":10,"c":2,"v":23},{"n":9,"r":10,"c":3,"v":43},{"n":9,"r":10,"c":4,"v":89},{"n":9,"r":10,"c":5,"v":56},{"n":9,"r":10,"c":6,"v":34},{"n":9,"r":10,"c":7,"v":46},{"n":9,"r":10,"c":8,"v":16},{"n":9,"r":10,"c":9,"v":7},{"n":9,"r":10,"c":10,"v":64},{"n":9,"r":10,"c":11,"v":21},
{"n":9,"r":11,"c":0,"v":28},{"n":9,"r":11,"c":1,"v":67},{"n":9,"r":11,"c":2,"v":62},{"n":9,"r":11,"c":3,"v":71},{"n":9,"r":11,"c":4,"v":50},{"n":9,"r":11,"c":5,"v":59},{"n":9,"r":11,"c":6,"v":70},{"n":9,"r":11,"c":7,"v":70},{"n":9,"r":11,"c":8,"v":57},{"n":9,"r":11,"c":9,"v":28},{"n":9,"r":11,"c":10,"v":48},{"n":9,"r":11,"c":11,"v":10},
{"n":10,"r":0,"c":0,"v":70},{"n":10,"r":0,"c":1,"v":52},{"n":10,"r":0,"c":2,"v":50},{"n":10,"r":0,"c":3,"v":90},{"n":10,"r":0,"c":4,"v":89},{"n":10,"r":0,"c":5,"v":87},{"n":10,"r":0,"c":6,"v":63},{"n":10,"r":0,"c":7,"v":50},{"n":10,"r":0,"c":8,"v":85},{"n":10,"r":0,"c":9,"v":62},{"n":10,"r":0,"c":10,"v":90},{"n":10,"r":0,"c":11,"v":75},
{"n":10,"r":1,"c":0,"v":72},{"n":10,"r":1,"c":1,"v":87},{"n":10,"r":1,"c":2,"v":92},{"n":10,"r":1,"c":3,"v":92},{"n":10,"r":1,"c":4,"v":80},{"n":10,"r":1,"c":5,"v":90},{"n":10,"r":1,"c":6,"v":97},{"n":10,"r":1,"c":7,"v":72},{"n":10,"r":1,"c":8,"v":72},{"n":10,"r":1,"c":9,"v":69},{"n":10,"r":1,"c":10,"v":75},{"n":10,"r":1,"c":11,"v":57},
{"n":10,"r":2,"c":0,"v":97},{"n":10,"r":2,"c":1,"v":73},{"n":10,"r":2,"c":2,"v":95},{"n":10,"r":2,"c":3,"v":88},{"n":10,"r":2,"c":4,"v":87},{"n":10,"r":2,"c":5,"v":67},{"n":10,"r":2,"c":6,"v":80},{"n":10,"r":2,"c":7,"v":73},{"n":10,"r":2,"c":8,"v":87},{"n":10,"r":2,"c":9,"v":80},{"n":10,"r":2,"c":10,"v":95},{"n":10,"r":2,"c":11,"v":71},
{"n":10,"r":3,"c":0,"v":90},{"n":10,"r":3,"c":1,"v":88},{"n":10,"r":3,"c":2,"v":79},{"n":10,"r":3,"c":3,"v":57},{"n":10,"r":3,"c":4,"v":84},{"n":10,"r":3,"c":5,"v":41},{"n":10,"r":3,"c":6,"v":84},{"n":10,"r":3,"c":7,"v":73},{"n":10,"r":3,"c":8,"v":62},{"n":10,"r":3,"c":9,"v":67},{"n":10,"r":3,"c":10,"v":84},{"n":10,"r":3,"c":11,"v":72},
{"n":10,"r":4,"c":0,"v":57},{"n":10,"r":4,"c":1,"v":50},{"n":10,"r":4,"c":2,"v":97},{"n":10,"r":4,"c":3,"v":78},{"n":10,"r":4,"c":4,"v":52},{"n":10,"r":4,"c":5,"v":84},{"n":10,"r":4,"c":6,"v":88},{"n":10,"r":4,"c":7,"v":33},{"n":10,"r":4,"c":8,"v":50},{"n":10,"r":4,"c":9,"v":88},{"n":10,"r":4,"c":10,"v":67},{"n":10,"r":4,"c":11,"v":77},
{"n":10,"r":5,"c":0,"v":65},{"n":10,"r":5,"c":1,"v":55},{"n":10,"r":5,"c":2,"v":85},{"n":10,"r":5,"c":3,"v":92},{"n":10,"r":5,"c":4,"v":84},{"n":10,"r":5,"c":5,"v":88},{"n":10,"r":5,"c":6,"v":97},{"n":10,"r":5,"c":7,"v":93},{"n":10,"r":5,"c":8,"v":64},{"n":10,"r":5,"c":9,"v":97},{"n":10,"r":5,"c":10,"v":59},{"n":10,"r":5,"c":11,"v":63},
{"n":10,"r":6,"c":0,"v":61},{"n":10,"r":6,"c":1,"v":87},{"n":10,"r":6,"c":2,"v":69},{"n":10,"r":6,"c":3,"v":92},{"n":10,"r":6,"c":4,"v":97},{"n":10,"r":6,"c":5,"v":78},{"n":10,"r":6,"c":6,"v":97},{"n":10,"r":6,"c":7,"v":67},{"n":10,"r":6,"c":8,"v":97},{"n":10,"r":6,"c":9,"v":55},{"n":10,"r":6,"c":10,"v":81},{"n":10,"r":6,"c":11,"v":81},
{"n":10,"r":7,"c":0,"v":92},{"n":10,"r":7,"c":1,"v":81},{"n":10,"r":7,"c":2,"v":0},{"n":10,"r":7,"c":3,"v":67},{"n":10,"r":7,"c":4,"v":92},{"n":10,"r":7,"c":5,"v":97},{"n":10,"r":7,"c":6,"v":0},{"n":10,"r":7,"c":7,"v":97},{"n":10,"r":7,"c":8,"v":73},{"n":10,"r":7,"c":9,"v":77},{"n":10,"r":7,"c":10,"v":81},{"n":10,"r":7,"c":11,"v":88},
{"n":10,"r":8,"c":0,"v":46},{"n":10,"r":8,"c":1,"v":84},{"n":10,"r":8,"c":2,"v":97},{"n":10,"r":8,"c":3,"v":67},{"n":10,"r":8,"c":4,"v":81},{"n":10,"r":8,"c":5,"v":97},{"n":10,"r":8,"c":6,"v":95},{"n":10,"r":8,"c":7,"v":92},{"n":10,"r":8,"c":8,"v":56},{"n":10,"r":8,"c":9,"v":97},{"n":10,"r":8,"c":10,"v":70},{"n":10,"r":8,"c":11,"v":67},
{"n":10,"r":9,"c":0,"v":64},{"n":10,"r":9,"c":1,"v":100},{"n":10,"r":9,"c":2,"v":97},{"n":10,"r":9,"c":3,"v":67},{"n":10,"r":9,"c":4,"v":67},{"n":10,"r":9,"c":5,"v":63},{"n":10,"r":9,"c":6,"v":88},{"n":10,"r":9,"c":7,"v":80},{"n":10,"r":9,"c":8,"v":97},{"n":10,"r":9,"c":9,"v":66},{"n":10,"r":9,"c":10,"v":66},{"n":10,"r":9,"c":11,"v":93},
{"n":10,"r":10,"c":0,"v":64},{"n":10,"r":10,"c":1,"v":95},{"n":10,"r":10,"c":2,"v":92},{"n":10,"r":10,"c":3,"v":63},{"n":10,"r":10,"c":4,"v":75},{"n":10,"r":10,"c":5,"v":59},{"n":10,"r":10,"c":6,"v":67},{"n":10,"r":10,"c":7,"v":73},{"n":10,"r":10,"c":8,"v":87},{"n":10,"r":10,"c":9,"v":87},{"n":10,"r":10,"c":10,"v":57},{"n":10,"r":10,"c":11,"v":92},
{"n":10,"r":11,"c":0,"v":56},{"n":10,"r":11,"c":1,"v":41},{"n":10,"r":11,"c":2,"v":90},{"n":10,"r":11,"c":3,"v":88},{"n":10,"r":11,"c":4,"v":97},{"n":10,"r":11,"c":5,"v":87},{"n":10,"r":11,"c":6,"v":73},{"n":10,"r":11,"c":7,"v":67},{"n":10,"r":11,"c":8,"v":66},{"n":10,"r":11,"c":9,"v":50},{"n":10,"r":11,"c":10,"v":67},{"n":10,"r":11,"c":11,"v":81}
  ]},
  "columns": 2,
  "spacing": {"column": 42, "row": 50},
  "facet": {
    "field": "n",
    "type": "ordinal",
    "header": {
      "title": null,
      "labelOrient": "bottom",
      "labelExpr": "'Layer 2 : Neuron ' + datum.value + ' (Class : ' + ['T-shirt/top','Trouser','Pullover','Dress','Coat','Sandal','Shirt','Sneaker','Bag','Ankle boot'][datum.value - 1] + ')'",
      "labelFont": "DejaVu Sans",
      "labelFontSize": 10,
      "labelColor": "#000000",
      "labelPadding": 6
    }
  },
  "spec": {
    "width": 164,
    "height": 164,
    "mark": {"type": "rect"},
    "encoding": {
      "x": {"field": "c", "type": "ordinal", "axis": null, "scale": {"paddingInner": 0, "paddingOuter": 0}},
      "y": {"field": "r", "type": "ordinal", "axis": null, "scale": {"paddingInner": 0, "paddingOuter": 0}},
      "color": {"field": "v", "type": "quantitative", "scale": {"scheme": "pinkyellowgreen", "domain": [0, 100]}, "legend": null}
    }
  },
  "config": {
    "view": {"stroke": "#000000", "strokeWidth": 1}
  }
}
